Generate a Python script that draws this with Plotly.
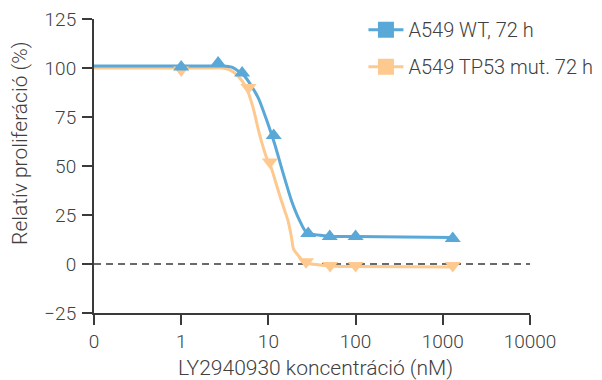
import plotly.graph_objects as go

# ---- Data ----
# measured points (markers)
conc_wt = [1, 2.65, 5, 11.5, 28.6, 50.5, 100, 1300]
prolif_wt = [100.5, 102.5, 97.5, 65.5, 15.5, 14, 14, 13]

conc_mut = [1, 5.9, 10.4, 27, 51, 100, 1300]
prolif_mut = [99, 90, 52, 1.2, -0.8, -0.8, -0.8]

# fitted curves (x = concentration, 0.1 = the "0" position)
curve_wt_x = [0.1, 1, 2, 3, 3.8, 5.3, 7.6, 9.9, 11.8, 14.7, 18.4, 22.9, 27.3, 50, 100, 1300]
curve_wt_y = [101, 101, 101, 101, 100.4, 96, 85, 71.4, 61.2, 46.5, 32.3, 22, 16.1, 14.2, 14.0, 13.5]

curve_mut_x = [0.1, 1, 2, 3, 3.6, 4.47, 5.58, 6.65, 7.9, 9.5, 10.8, 12.3, 14.1, 15.4,
               16.8, 18.4, 19.4, 22.9, 26.1, 50, 100, 1300]
curve_mut_y = [100, 100, 100, 100, 99, 96, 90, 80, 66.3, 54.4, 49, 40.8, 32.3, 27.2,
               22.1, 13.6, 7.7, 3.4, 0.8, -1, -1.3, -1.5]

tick_vals = [0.1, 1, 10, 100, 1000, 10000]
tick_text = ["0", "1", "10", "100", "1000", "10000"]
ytick_vals = [-25, 0, 25, 50, 75, 100, 125]
ytick_text = ["\u221225", "0", "25", "50", "75", "100", "125"]

series_names = ["A549 WT, 72 h", "A549 TP53 mut. 72 h"]
x_title = "LY2940930 koncentráció (nM)"
y_title = "Relatív proliferáció (%)"

BLUE = "#5aa8d8"
ORANGE = "#fdc98e"
TXT = "#404040"
AX = "#3a3a3a"
FONT = "Roboto"
W = 300

fig = go.Figure()

fig.add_trace(go.Scatter(
    x=curve_mut_x, y=curve_mut_y, mode="lines",
    line=dict(color=ORANGE, width=3, shape="spline", smoothing=0.6),
    showlegend=False, hoverinfo="skip"))
fig.add_trace(go.Scatter(
    x=curve_wt_x, y=curve_wt_y, mode="lines",
    line=dict(color=BLUE, width=3, shape="spline", smoothing=0.6),
    showlegend=False, hoverinfo="skip"))

fig.add_trace(go.Scatter(
    x=conc_mut, y=prolif_mut, mode="markers",
    marker=dict(symbol="triangle-down", size=14, color=ORANGE),
    showlegend=False))
fig.add_trace(go.Scatter(
    x=conc_wt, y=prolif_wt, mode="markers",
    marker=dict(symbol="triangle-up", size=14, color=BLUE),
    showlegend=False))

# legend entries
fig.add_trace(go.Scatter(
    x=[None], y=[None], mode="lines+markers", name=series_names[0],
    legendgroup="wt",
    line=dict(color=BLUE, width=3),
    marker=dict(symbol="square", size=16, color=BLUE)))
fig.add_trace(go.Scatter(
    x=[None], y=[None], mode="lines+markers", name=series_names[1],
    legendgroup="mut",
    line=dict(color=ORANGE, width=3),
    marker=dict(symbol="square", size=16, color=ORANGE)))

# dashed zero line
fig.add_shape(type="line", xref="paper", yref="y", x0=0, x1=1, y0=0, y1=0,
              line=dict(color=AX, width=1.5, dash="7px,5px"), layer="below")

# axis titles as annotations (placed like in the reference)
fig.add_annotation(text=x_title, xref="paper", yref="paper",
                   x=0.509, y=-0.188, xanchor="center", yanchor="middle",
                   showarrow=False, font=dict(family=FONT, size=21, color=TXT, weight=W))
fig.add_annotation(text=y_title, xref="paper", yref="paper",
                   x=-0.17, y=0.578, xanchor="center", yanchor="middle",
                   textangle=-90, showarrow=False,
                   font=dict(family=FONT, size=21, color=TXT, weight=W))

fig.update_layout(
    width=602, height=380,
    margin=dict(l=94, r=72, t=19, b=67, autoexpand=False),
    paper_bgcolor="white", plot_bgcolor="white",
    font=dict(family=FONT, size=19, color=TXT, weight=W),
    showlegend=True,
    legend=dict(x=0.618, y=1.03, xanchor="left", yanchor="top",
                bgcolor="rgba(0,0,0,0)",
                font=dict(family=FONT, size=20, color=TXT, weight=W),
                traceorder="grouped", tracegroupgap=8, itemwidth=35),
    xaxis=dict(
        type="log", range=[-1, 4], tickvals=tick_vals, ticktext=tick_text,
        ticks="outside", ticklen=10, tickwidth=2, tickcolor=AX,
        showline=True, linewidth=2, linecolor=AX,
        showgrid=False, zeroline=False, automargin=False,
        tickfont=dict(family=FONT, size=19, color=TXT, weight=W), ticklabelstandoff=0,
    ),
    yaxis=dict(
        range=[-25, 125], tickvals=ytick_vals, ticktext=ytick_text,
        ticks="outside", ticklen=10, tickwidth=2, tickcolor=AX,
        showline=True, linewidth=2, linecolor=AX,
        showgrid=False, zeroline=False, automargin=False,
        tickfont=dict(family=FONT, size=19, color=TXT, weight=W), ticklabelstandoff=2,
    ),
)

fig.write_html(
    "out.html",
    config={"displayModeBar": False},
    post_script="document.body.style.margin='0';document.body.style.overflow='hidden';",
)
